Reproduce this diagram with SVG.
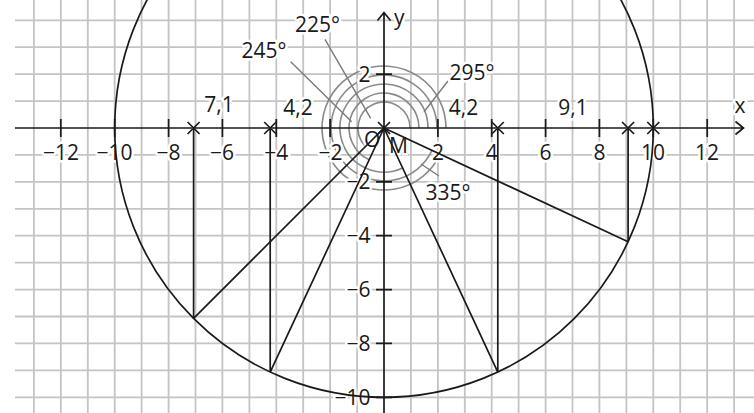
<svg xmlns="http://www.w3.org/2000/svg" width="754" height="413" viewBox="0 0 754 413">
<style>
.grid{stroke:#c4c4c4;stroke-width:1.8;fill:none}
.ax{stroke:#1a1a1a;stroke-width:1.7;fill:none}
.geo{stroke:#1a1a1a;stroke-width:1.7;fill:none}
.arc{stroke:#8a8a8a;stroke-width:1.6;fill:none}
.lead{stroke:#7a7a7a;stroke-width:1.4;fill:none}
text{font-family:"Open Sans","Noto Sans","Liberation Sans",sans-serif;font-size:21px;fill:#1a1a1a;stroke:#ffffff;stroke-width:5;stroke-linejoin:round;paint-order:stroke}
.m{text-anchor:middle}
.e{text-anchor:end}
</style>
<rect width="754" height="413" fill="#ffffff"/>
<g id="grid">
<path class="grid" d="M33.9 0V413M60.8 0V413M87.8 0V413M114.7 0V413M141.6 0V413M168.6 0V413M195.5 0V413M222.4 0V413M249.4 0V413M276.3 0V413M303.2 0V413M330.1 0V413M357.1 0V413M410.9 0V413M437.9 0V413M464.8 0V413M491.7 0V413M518.6 0V413M545.6 0V413M572.5 0V413M599.4 0V413M626.4 0V413M653.3 0V413M680.2 0V413M707.2 0V413M734.1 0V413M15 20.3H754M15 47.2H754M15 74.1H754M15 101.1H754M15 154.9H754M15 181.9H754M15 208.8H754M15 235.7H754M15 262.7H754M15 289.6H754M15 316.5H754M15 343.4H754M15 370.4H754M15 397.3H754"/>
</g>
<g id="angle-arcs">
<path class="arc" d="M410 128A26 26 0 1 0 365.6 146.4"/>
<path class="arc" d="M419 128A35 35 0 1 0 369.2 159.7"/>
<path class="arc" d="M428 128A44 44 0 1 0 402.6 167.9"/>
<path class="arc" d="M437 128A53 53 0 1 0 432 150.4"/>
<path class="arc" d="M446 128A62 62 0 1 0 440.2 154.2"/>
</g>
<g id="leaders">
<path class="lead" d="M325 39.3L370.7 118.3M290.7 61.7L351.7 121.7M448 81L424 111.7M421 164L439 176"/>
</g>
<g id="labels">
<text class="m" x="61" y="159.5">−12</text>
<text class="m" x="114.5" y="159.5">−10</text>
<text class="m" x="168.5" y="159.5">−8</text>
<text class="m" x="222" y="159.5">−6</text>
<text class="m" x="276.3" y="159.5">−4</text>
<text class="m" x="330.5" y="159.5">−2</text>
<text class="m" x="438" y="159.5">2</text>
<text class="m" x="491.7" y="159.5">4</text>
<text class="m" x="545.6" y="159.5">6</text>
<text class="m" x="599.4" y="159.5">8</text>
<text class="m" x="653" y="159.5">10</text>
<text class="m" x="707" y="159.5">12</text>
<text class="e" x="370.5" y="81.5">2</text>
<text class="e" x="370.5" y="189">−2</text>
<text class="e" x="370.5" y="243">−4</text>
<text class="e" x="370.5" y="297">−6</text>
<text class="e" x="370.5" y="351">−8</text>
<text class="e" x="370.5" y="404.5">−10</text>
<text class="m" x="740" y="113">x</text>
<text x="394" y="25">y</text>
<text class="m" x="219" y="111.5">7,1</text>
<text class="m" x="298" y="115">4,2</text>
<text class="m" x="463.5" y="115">4,2</text>
<text class="m" x="573" y="115">9,1</text>
<text class="m" x="317.5" y="31.5">225°</text>
<text class="m" x="264" y="58">245°</text>
<text class="m" x="472" y="80">295°</text>
<text class="m" x="448" y="200">335°</text>
<text x="364" y="147">O</text>
<text x="389" y="152.5">M</text>
</g>
<g id="axes">
<path class="ax" d="M15 128H743.5M735.5 121.5L743.5 128L735.5 134.5M384 413V12.5M377.5 20.5L384 12.5L390.5 20.5"/>
<path class="ax" d="M60.8 119V137M114.7 119V137M168.6 119V137M222.4 119V137M276.3 119V137M330.1 119V137M437.9 119V137M491.7 119V137M545.6 119V137M599.4 119V137M653.3 119V137M707.2 119V137M376 74.1H392M376 181.9H392M376 235.7H392M376 289.6H392M376 343.4H392M376 397.3H392"/>
</g>
<g id="circle">
<circle class="geo" cx="384" cy="128" r="269.3"/>
</g>
<g id="connectors">
<path class="geo" d="M384 128L193.6 318.4M384 128L270.2 372.1M384 128L497.8 372.1M384 128L628.1 241.8"/>
<path class="geo" d="M193.6 128V318.4M270.2 128V372.1M497.8 128V372.1M628.1 128V241.8"/>
</g>
<g id="marks">
<path class="geo" d="M187.6 122L199.6 134M187.6 134L199.6 122M264.2 122L276.2 134M264.2 134L276.2 122M491.8 122L503.8 134M491.8 134L503.8 122M622.1 122L634.1 134M622.1 134L634.1 122M647.3 122L659.3 134M647.3 134L659.3 122M378 122L390 134M378 134L390 122"/>
</g>
</svg>
